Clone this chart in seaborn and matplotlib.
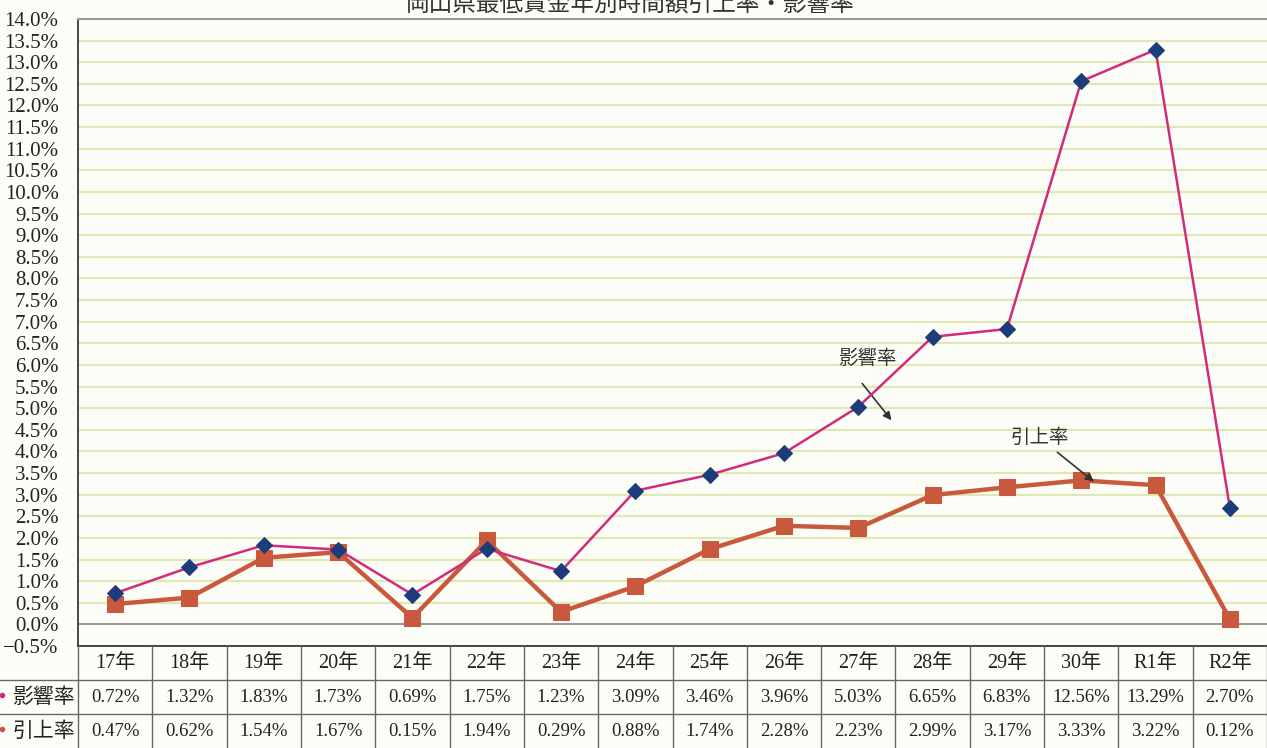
import pandas as pd
import matplotlib.pyplot as plt
import seaborn as sns

# データ
years = ["17年", "18年", "19年", "20年", "21年", "22年", "23年", "24年",
         "25年", "26年", "27年", "28年", "29年", "30年", "R1年", "R2年"]
eikyo = [0.72, 1.32, 1.83, 1.73, 0.69, 1.75, 1.23, 3.09,
         3.46, 3.96, 5.03, 6.65, 6.83, 12.56, 13.29, 2.70]
hikiage = [0.47, 0.62, 1.54, 1.67, 0.15, 1.94, 0.29, 0.88,
           1.74, 2.28, 2.23, 2.99, 3.17, 3.33, 3.22, 0.12]

df = pd.DataFrame({"idx": range(len(years)), "年": years,
                   "影響率": eikyo, "引上率": hikiage})

sns.set_theme(style="white")
plt.rcParams["font.family"] = ["Liberation Serif", "Noto Sans CJK JP"]

W, H = 1267, 748
fig = plt.figure(figsize=(W / 100, H / 100), dpi=100)
fig.patch.set_facecolor("#fdfdf8")

left, top, bottom = 78, 19, 646
ax = fig.add_axes([left / W, (H - bottom) / H, 1 - left / W, (bottom - top) / H])
ax.set_facecolor("#fdfdf8")

# 補助線
for v in [i * 0.5 for i in range(-1, 29)]:
    ax.axhline(v, color="#dfe7b4", lw=1.6, zorder=0)
ax.axhline(0, color="#9a9a9a", lw=1.4, zorder=1)

c_eik = "#d42a7c"
c_hik = "#c9593d"
sns.lineplot(data=df, x="idx", y="引上率", ax=ax, color=c_hik, lw=3.2,
             marker="s", markersize=11, markeredgecolor=c_hik, zorder=3)
sns.lineplot(data=df, x="idx", y="影響率", ax=ax, color=c_eik, lw=1.8,
             marker="D", markersize=8, markerfacecolor="#1d3c7c",
             markeredgecolor="#1d3c7c", zorder=4)

ax.set_xlim(-0.5, len(years) - 0.5)
ax.set_ylim(-0.5, 14.0)
ax.set_yticks([i * 0.5 for i in range(-1, 29)])
ax.set_yticklabels([f"{i * 0.5:.1f}%".replace("-", "−") for i in range(-1, 29)],
                   fontsize=15, color="#222222")
ax.tick_params(axis="y", length=0, pad=14)
ax.set_xticks([])
ax.set_xlabel("")
ax.set_ylabel("")
ax.spines["right"].set_visible(False)
ax.spines["top"].set_color("#9a9a9a")
ax.spines["top"].set_linewidth(1.5)
ax.spines["left"].set_color("#333333")
ax.spines["bottom"].set_color("#333333")

# 注記
ax.annotate("", xy=(10.47, 4.67), xytext=(10.03, 5.62),
            arrowprops=dict(arrowstyle="-|>", color="#333333", lw=1.2))
ax.text(10.12, 6.15, "影響率", fontsize=14, ha="center", va="center",
        family=["Noto Sans CJK JP"], color="#333333")
ax.annotate("", xy=(13.2, 3.26), xytext=(12.65, 4.02),
            arrowprops=dict(arrowstyle="-|>", color="#333333", lw=1.2))
ax.text(12.45, 4.32, "引上率", fontsize=14, ha="center", va="center",
        family=["Noto Sans CJK JP"], color="#333333")

fig.text(630 / W, 1 - 4 / H, "岡山県最低賃金年別時間額引上率・影響率", ha="center",
         va="center", fontsize=17, family=["Noto Sans CJK JP"], color="#333333")

# データ表
cw = (W - left) / len(years)
lab_w = left / cw
tax = fig.add_axes([0, 0, 1, (H - bottom) / H])
tax.set_xlim(-0.5 - lab_w, len(years) - 0.5)
tax.set_ylim(0, 3)
tax.axis("off")
lc = "#666666"
for i in range(len(years) + 1):
    tax.plot([i - 0.5, i - 0.5], [0, 3], color=lc, lw=1)
tax.plot([-0.5 - lab_w, len(years) - 0.5], [2, 2], color=lc, lw=1)
tax.plot([-0.5 - lab_w, len(years) - 0.5], [1, 1], color=lc, lw=1)
for i, y in enumerate(years):
    tax.text(i, 2.5, y, ha="center", va="center", fontsize=14.5, color="#222222")
    tax.text(i, 1.5, f"{eikyo[i]:.2f}%", ha="center", va="center", fontsize=13.5, color="#222222")
    tax.text(i, 0.5, f"{hikiage[i]:.2f}%", ha="center", va="center", fontsize=13.5, color="#222222")
xl = -0.5 - lab_w
tax.plot([xl + 0.03], [1.55], marker="o", ms=3, color=c_eik)
tax.plot([xl + 0.03], [0.55], marker="o", ms=3, color=c_hik)
tax.text(xl + lab_w / 2 + 0.06, 1.5, "影響率", ha="center", va="center",
         fontsize=15, family=["Noto Sans CJK JP"], color="#222222")
tax.text(xl + lab_w / 2 + 0.06, 0.5, "引上率", ha="center", va="center",
         fontsize=15, family=["Noto Sans CJK JP"], color="#222222")

fig.savefig("out.png", dpi=100, facecolor=fig.get_facecolor())
